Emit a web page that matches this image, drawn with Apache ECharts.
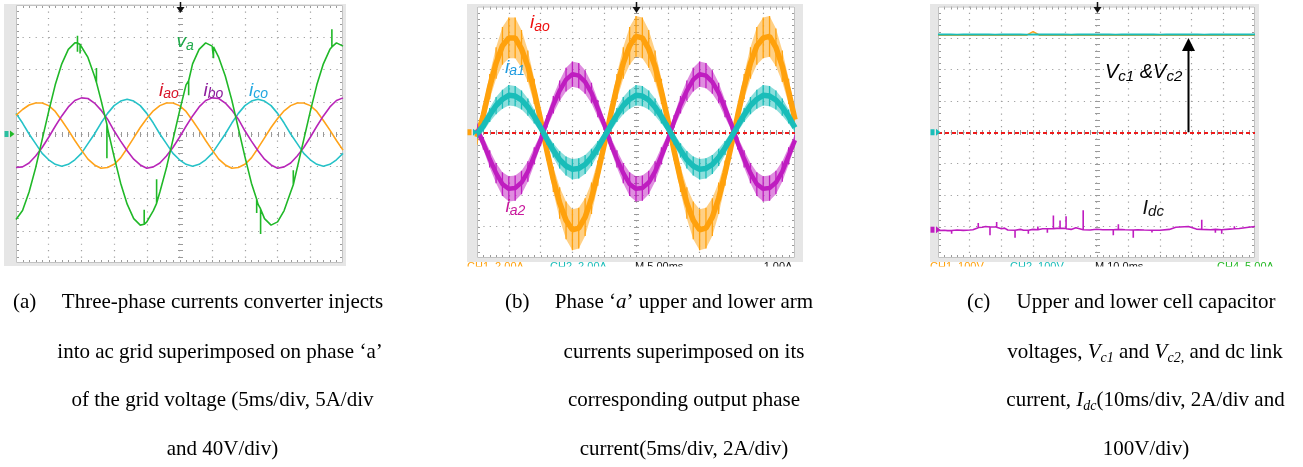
<!DOCTYPE html>
<html>
<head>
<meta charset="utf-8">
<script src="https://cdn.jsdelivr.net/npm/echarts@6/dist/echarts.min.js"></script>
<style>
  html, body { margin: 0; padding: 0; background: #fff; }
  #chart { width: 1303px; height: 467px; }
</style>
</head>
<body>
<div id="chart"></div>
<script>
// ---------- (a) grid currents and phase-a voltage: 5 ms/div, 5 A/div, 40 V/div ----------
const timeA = Array.from({ length: 51 }, (_, i) => i);          // ms
const iaoA = [2.9, 3.8, 4.5, 4.8, 4.8, 4.4, 3.5, 2.1, 0.6, -1.0, -2.5, -3.9, -4.8, -5.3, -5.2, -4.7, -3.7, -2.2, -0.6, 1.0,
              2.4, 3.6, 4.4, 4.8, 4.8, 4.4, 3.5, 2.1, 0.6, -1.0, -2.5, -3.9, -4.8, -5.3, -5.2, -4.7, -3.7, -2.2, -0.6, 1.0,
              2.4, 3.6, 4.4, 4.8, 4.8, 4.4, 3.5, 2.1, 0.6, -1.0, -2.5];
const iboA = [-5.2, -5.1, -4.5, -3.4, -2.1, -0.5, 1.2, 2.8, 4.2, 5.2, 5.6, 5.5, 4.8, 3.7, 2.3, 0.5, -1.1, -2.6, -3.9, -4.8,
              -5.3, -5.1, -4.5, -3.4, -2.1, -0.5, 1.2, 2.8, 4.2, 5.2, 5.6, 5.5, 4.8, 3.7, 2.3, 0.5, -1.1, -2.6, -3.9, -4.8,
              -5.3, -5.1, -4.5, -3.4, -2.1, -0.5, 1.2, 2.8, 4.2, 5.2, 5.6];
const icoA = [3.2, 1.7, 0.0, -1.5, -3.0, -4.0, -4.7, -5.0, -4.7, -4.0, -3.0, -1.5, 0.0, 1.7, 3.2, 4.4, 5.1, 5.4, 5.1, 4.4,
              3.2, 1.7, 0.0, -1.5, -3.0, -4.0, -4.7, -5.0, -4.7, -4.0, -3.0, -1.5, 0.0, 1.7, 3.2, 4.4, 5.1, 5.4, 5.1, 4.4,
              3.2, 1.7, 0.0, -1.5, -3.0, -4.0, -4.7, -5.0, -4.7, -4.0, -3.0];
// grid voltage [ms, V]; repeated time stamps are the switching spikes
const vaA = [[0, -106], [1, -95], [2, -72], [3, -42], [4, -7], [5, 28], [6, 61], [7, 87], [8, 105], [9, 113],
  [9.4, 113], [9.4, 122], [9.4, 102], [9.4, 113], [9.8, 111], [9.8, 100], [9.8, 111],
  [10, 109], [11, 95], [12, 72], [12.3, 64], [12.3, 82], [12.3, 64], [13, 42],
  [13.9, 12], [13.9, -30], [13.9, 12], [14, 7], [15, -28], [16, -61], [17, -87], [18, -105], [19, -113],
  [19.6, -112], [19.6, -94], [19.6, -112], [20, -109], [21, -95], [21.5, -86], [21.5, -56], [21.5, -86],
  [22, -72], [23, -42], [24, -7], [25, 28], [26, 61], [26.4, 66], [26.4, 48], [26.4, 66],
  [27, 87], [28, 105], [29, 113], [30, 109], [30.2, 108], [30.2, 94], [30.2, 108],
  [31, 95], [32, 72], [33, 42], [34, 7], [35, -28], [36, -61], [36.8, -81], [36.8, -98], [36.8, -81],
  [37, -87], [37.4, -93], [37.4, -124], [37.4, -93], [38, -105], [39, -113], [40, -109], [41, -95], [42, -72],
  [42.4, -63], [42.4, -45], [42.4, -63], [43, -42], [44, -7], [45, 28], [46, 61], [47, 87], [48, 105],
  [48.3, 108], [48.3, 130], [48.3, 108], [49, 113], [50, 109]];

// ---------- (b) arm currents and phase current: 5 ms/div, 2 A/div ----------
const timeB = Array.from({ length: 51 }, (_, i) => i);          // ms
const iaoB = [-0.3, 1.1, 2.9, 4.4, 5.5, 6.0, 6.0, 5.3, 4.2, 2.6, 0.8, -1.2, -3.0, -4.5, -5.6, -6.2, -6.1, -5.4, -4.2, -2.6,
              -0.8, 1.1, 2.9, 4.4, 5.5, 6.1, 6.0, 5.3, 4.2, 2.6, 0.8, -1.2, -3.0, -4.5, -5.6, -6.2, -6.1, -5.4, -4.2, -2.6,
              -0.8, 1.1, 2.9, 4.4, 5.5, 6.0, 6.1, 5.4, 4.2, 2.6, 0.8];
const ia1B = [-0.1, 0.4, 1.1, 1.7, 2.1, 2.35, 2.3, 2.05, 1.6, 1.0, 0.3, -0.45, -1.15, -1.75, -2.15, -2.35, -2.3, -2.05, -1.6, -1.0,
              -0.3, 0.4, 1.1, 1.7, 2.1, 2.35, 2.3, 2.05, 1.6, 1.0, 0.3, -0.45, -1.15, -1.75, -2.15, -2.35, -2.3, -2.05, -1.6, -1.0,
              -0.3, 0.4, 1.1, 1.7, 2.1, 2.35, 2.3, 2.05, 1.6, 1.0, 0.3];
const ia2B = [0.2, -0.7, -1.7, -2.6, -3.3, -3.6, -3.55, -3.2, -2.5, -1.5, -0.5, 0.7, 1.75, 2.65, 3.35, 3.7, 3.6, 3.2, 2.5, 1.5,
              0.5, -0.7, -1.7, -2.6, -3.3, -3.6, -3.55, -3.2, -2.5, -1.5, -0.5, 0.7, 1.75, 2.65, 3.35, 3.7, 3.6, 3.2, 2.5, 1.5,
              0.5, -0.7, -1.7, -2.6, -3.3, -3.6, -3.55, -3.2, -2.5, -1.5, -0.5];
// half-width of the switching ripple band around each trace (A)
const iaoRipple = [0.5, 0.6, 0.8, 1.0, 1.2, 1.3, 1.3, 1.2, 1.0, 0.8, 0.5, 0.6, 0.8, 1.0, 1.2, 1.3, 1.3, 1.2, 1.0, 0.8,
                   0.5, 0.6, 0.8, 1.0, 1.2, 1.3, 1.3, 1.2, 1.0, 0.8, 0.5, 0.6, 0.8, 1.0, 1.2, 1.3, 1.3, 1.2, 1.0, 0.8,
                   0.5, 0.6, 0.8, 1.0, 1.2, 1.3, 1.3, 1.2, 1.0, 0.8, 0.5];
const ia1Ripple = [0.3, 0.35, 0.45, 0.55, 0.6, 0.65, 0.65, 0.6, 0.55, 0.45, 0.3, 0.35, 0.45, 0.55, 0.6, 0.65, 0.65, 0.6, 0.55, 0.45,
                   0.3, 0.35, 0.45, 0.55, 0.6, 0.65, 0.65, 0.6, 0.55, 0.45, 0.3, 0.35, 0.45, 0.55, 0.6, 0.65, 0.65, 0.6, 0.55, 0.45,
                   0.3, 0.35, 0.45, 0.55, 0.6, 0.65, 0.65, 0.6, 0.55, 0.45, 0.3];
const ia2Ripple = [0.35, 0.4, 0.55, 0.65, 0.75, 0.8, 0.8, 0.75, 0.65, 0.55, 0.35, 0.4, 0.55, 0.65, 0.75, 0.8, 0.8, 0.75, 0.65, 0.55,
                   0.35, 0.4, 0.55, 0.65, 0.75, 0.8, 0.8, 0.75, 0.65, 0.55, 0.35, 0.4, 0.55, 0.65, 0.75, 0.8, 0.8, 0.75, 0.65, 0.55,
                   0.35, 0.4, 0.55, 0.65, 0.75, 0.8, 0.8, 0.75, 0.65, 0.55, 0.35];

// ---------- (c) cell capacitor voltages and dc link current: 10 ms/div, 100 V/div, 2 A/div ----------
const timeC = Array.from({ length: 51 }, (_, i) => 2 * i);      // ms
const vc1C = [309, 309, 308.5, 309, 309, 308.5, 309, 309.5, 309, 309, 308.5, 309, 309, 309, 309, 320, 309, 308.5, 309, 309,
              309, 308.5, 309, 309.5, 309, 309, 308.5, 309, 309, 309, 309.5, 309, 308.5, 309, 309, 309, 308.5, 309, 309, 309.5,
              309, 309, 308.5, 309, 309, 309, 308.5, 309, 309, 309, 309];
const vc2C = [311, 311.5, 311, 310.5, 311, 311, 311.5, 311, 311, 310.5, 311, 311, 311.5, 311, 310.5, 311, 311, 311, 311.5, 311,
              311, 310.5, 311, 311, 311.5, 311, 311, 311, 310.5, 311, 311, 311.5, 311, 311, 311, 310.5, 311, 311, 311.5, 311,
              311, 311, 310.5, 311, 311, 311, 311.5, 311, 311, 311, 311];
// dc link current [ms, A]; repeated time stamps are spikes
const idcC = [[0, -0.05], [2, -0.03], [3, -0.06], [4.3, -0.05], [4.3, -0.25], [4.3, -0.05], [6, -0.02], [8, -0.04], [10, -0.02], [11, 0.0],
  [12.7, 0.12], [12.7, 0.42], [12.7, 0.14], [14, 0.16], [15, 0.2], [16.4, 0.17], [16.4, -0.36], [16.4, 0.17],
  [18.5, 0.18], [18.5, 0.49], [18.5, 0.15], [20, 0.06], [21, 0.1], [22, -0.02], [24.3, -0.03], [24.3, -0.51], [24.3, -0.03],
  [26, 0.02], [27, -0.03], [28.5, -0.03], [28.5, -0.26], [28.5, -0.03], [30, 0.02], [31.5, 0.0], [31.5, 0.2], [31.5, 0.0],
  [33, 0.06], [34.5, 0.06], [34.5, -0.2], [34.5, 0.06], [36.4, 0.07], [36.4, 0.91], [36.4, 0.07], [38.5, 0.1], [38.5, 0.59], [38.5, 0.1],
  [40.4, 0.08], [40.4, 0.85], [40.4, 0.06], [42, 0.02], [43.5, 0.12], [45.8, 0.0], [45.8, 1.23], [45.8, 0.0], [48, -0.02],
  [50, 0.03], [52, 0.0], [55.3, 0.0], [55.3, -0.36], [55.3, 0.0], [56.9, 0.02], [56.9, 0.34], [56.9, 0.02], [59, 0.0],
  [61.6, -0.02], [61.6, -0.51], [61.6, -0.02], [63, 0.0], [65, -0.02], [67.5, -0.03], [67.5, -0.18], [67.5, -0.03],
  [70, -0.03], [73, 0.02], [75, 0.16], [79, 0.2],
  [81.5, 0.04], [83.2, 0.02], [83.2, 0.63], [83.2, 0.02], [86, 0.0], [87.5, 0.02], [87.5, -0.2], [87.5, 0.02],
  [89.5, 0.0], [89.5, -0.25], [89.5, 0.0], [92, 0.04], [93.5, 0.06], [93.5, 0.22], [93.5, 0.06], [95, 0.08], [98, 0.16], [100, 0.2]];

// ---------- layout ----------
const GRIDS = [
  { left: 16, top: 5, width: 327, height: 258 },
  { left: 477, top: 6.5, width: 318, height: 251.5 },
  { left: 938, top: 6.5, width: 317, height: 251.5 }
];
const FRAMES = [
  { x: 4, y: 4, width: 342, height: 262 },
  { x: 467, y: 4, width: 336, height: 258 },
  { x: 930, y: 4, width: 329, height: 258 }
];

const C = {
  green: '#20b828', orange: '#ffa31a', magenta: '#b826b8', cyan: '#26c2c8',
  orangeB: '#ffa10c', cyanB: '#19bdb9', magentaB: '#bf1cc0', red: '#ee1b1b'
};

function divAxisX(gi, max, step, dotGap) {
  return {
    gridIndex: gi, type: 'value', min: 0, max: max, interval: step,
    axisLine: { show: false }, axisTick: { show: false }, axisLabel: { show: false },
    splitLine: { show: true, showMinLine: false, showMaxLine: false,
      lineStyle: { color: '#a0a0a0', width: 1.2, type: [1.2, dotGap] } }
  };
}
function divAxisY(gi, dotGap) {
  return {
    gridIndex: gi, type: 'value', min: -4, max: 4, interval: 1,
    axisLine: { show: false }, axisTick: { show: false }, axisLabel: { show: false },
    splitLine: { show: true, showMinLine: false, showMaxLine: false,
      lineStyle: { color: '#a0a0a0', width: 1.2, type: [1.2, dotGap] } }
  };
}
function chanAxis(gi, min, max) {
  return { gridIndex: gi, type: 'value', min: min, max: max, show: false, splitLine: { show: false } };
}

// scope graticule: border, centre cross and minor ticks at 1/5 division
function graticule(xi, yi) {
  return {
    type: 'custom', xAxisIndex: xi, yAxisIndex: yi, silent: true, z: 1, data: [[0, 0]],
    renderItem(params) {
      const cs = params.coordSys;
      const x0 = cs.x, y0 = cs.y, w = cs.width, h = cs.height;
      const cx = Math.round(x0 + w / 2) + 0.5, cy = Math.round(y0 + h / 2) + 0.5;
      const st = { stroke: '#9a9a9a', lineWidth: 1 };
      const kids = [];
      const seg = (a, b, c, d) => kids.push({ type: 'line', shape: { x1: a, y1: b, x2: c, y2: d }, style: st });
      for (let i = 1; i < 50; i++) {
        const x = Math.round(x0 + i * w / 50) + 0.5;
        seg(x, cy - 2.5, x, cy + 2.5);
        seg(x, y0, x, y0 + 3);
        seg(x, y0 + h - 3, x, y0 + h);
      }
      for (let j = 1; j < 40; j++) {
        const y = Math.round(y0 + j * h / 40) + 0.5;
        seg(cx - 2.5, y, cx + 2.5, y);
        seg(x0, y, x0 + 3, y);
        seg(x0 + w - 3, y, x0 + w, y);
      }
      kids.push({ type: 'rect', shape: { x: x0 + 0.5, y: y0 + 0.5, width: w - 1, height: h - 1 },
        style: { fill: null, stroke: '#c2c2c2', lineWidth: 1 } });
      return { type: 'group', children: kids };
    }
  };
}

// switching-ripple band drawn around a trace from its centre values and ripple half-widths
function rippleBand(xi, yi, times, centre, ripple, color, z) {
  return {
    type: 'custom', xAxisIndex: xi, yAxisIndex: yi, silent: true, z: z, clip: true,
    data: times.map((t, i) => [t, centre[i] - ripple[i], centre[i] + ripple[i]]),
    renderItem(params, api) {
      const lo = api.coord([api.value(0), api.value(1)]);
      const hi = api.coord([api.value(0), api.value(2)]);
      const kids = [{ type: 'line', shape: { x1: lo[0], y1: lo[1], x2: hi[0], y2: hi[1] },
        style: { stroke: color, lineWidth: 1.3 } }];
      if (params.dataIndex === 0) {
        const up = [], dn = [];
        for (let i = 0; i < times.length; i++) {
          up.push(api.coord([times[i], centre[i] + ripple[i]]));
          dn.push(api.coord([times[i], centre[i] - ripple[i]]));
        }
        kids.push({ type: 'polygon', shape: { points: up.concat(dn.reverse()) },
          style: { fill: color, opacity: 0.5 } });
      }
      return { type: 'group', children: kids };
    }
  };
}

function trace(xi, yi, data, color, width, z) {
  return { type: 'line', xAxisIndex: xi, yAxisIndex: yi, data: data, showSymbol: false,
    lineStyle: { color: color, width: width }, itemStyle: { color: color }, z: z, silent: true, clip: true };
}
const pairs = (times, vals) => times.map((t, i) => [t, vals[i]]);

const zeroRef = (xi, yi) => ({
  type: 'line', xAxisIndex: xi, yAxisIndex: yi, data: [], z: 8, silent: true,
  markLine: { symbol: 'none', silent: true, label: { show: false },
    lineStyle: { color: C.red, type: [4, 3], width: 2 }, data: [{ yAxis: 0 }] }
});

const chart = echarts.init(document.getElementById('chart'), null, { renderer: 'canvas' });

chart.setOption({
  animation: false,
  backgroundColor: '#ffffff',
  grid: GRIDS.map(g => Object.assign({ containLabel: false }, g)),
  xAxis: [
    divAxisX(0, 50, 5, 5.25),
    divAxisX(1, 50, 5, 5.09),
    divAxisX(2, 100, 10, 5.09)
  ],
  yAxis: [
    divAxisY(0, 5.34),          // 0: divisions (a)
    chanAxis(0, -20, 20),       // 1: A, 5 A/div
    chanAxis(0, -160, 160),     // 2: V, 40 V/div
    divAxisY(1, 5.16),          // 3: divisions (b)
    chanAxis(1, -8, 8),         // 4: A, 2 A/div
    divAxisY(2, 5.14),          // 5: divisions (c)
    chanAxis(2, -400, 400),     // 6: V, 100 V/div
    chanAxis(2, -1.8, 14.2)     // 7: A, 2 A/div, ground 3.1 div below centre
  ],
  series: [
    graticule(0, 0), graticule(1, 3), graticule(2, 5),                 // 0-2
    // (a)
    trace(0, 1, pairs(timeA, icoA), C.cyan, 1.6, 3),                   // 3
    trace(0, 1, pairs(timeA, iaoA), C.orange, 1.6, 3),                 // 4
    trace(0, 1, pairs(timeA, iboA), C.magenta, 1.6, 3),                // 5
    trace(0, 2, vaA, C.green, 1.6, 4),                                 // 6
    // (b)
    rippleBand(1, 4, timeB, iaoB, iaoRipple, C.orangeB, 3),            // 7
    trace(1, 4, pairs(timeB, iaoB), C.orangeB, 5.5, 3),                // 8
    rippleBand(1, 4, timeB, ia2B, ia2Ripple, C.magentaB, 4),           // 9
    trace(1, 4, pairs(timeB, ia2B), C.magentaB, 4.5, 4),               // 10
    rippleBand(1, 4, timeB, ia1B, ia1Ripple, C.cyanB, 5),              // 11
    trace(1, 4, pairs(timeB, ia1B), C.cyanB, 5.5, 5),                  // 12
    zeroRef(1, 4),                                                     // 13
    // (c)
    trace(2, 6, pairs(timeC, vc1C), C.orange, 1.6, 3),                 // 14
    trace(2, 6, pairs(timeC, vc2C), C.cyanB, 1.8, 4),                  // 15
    trace(2, 7, idcC, C.magentaB, 1.6, 4),                             // 16
    zeroRef(2, 6)                                                      // 17
  ]
});

// ---------- annotations ----------
const meas = document.createElement('canvas').getContext('2d');
const SANS = 'Liberation Sans', SERIF = 'Liberation Serif';

// lay out a run of text pieces on one baseline; sub pieces drop below it
function run(pieces, x, baseline, align) {
  let total = 0;
  const items = pieces.map(p => {
    const font = (p.italic ? 'italic ' : '') + p.size + 'px "' + p.family + '"';
    meas.font = font;
    const w = meas.measureText(p.text).width;
    total += w;
    return { p, w };
  });
  let cx = align === 'center' ? x - total / 2 : x;
  return items.map(({ p, w }) => {
    const el = {
      type: 'text', x: cx, y: baseline + (p.drop || 0) - 0.34 * p.size, z: 100, silent: true,
      style: { text: p.text, fill: p.color || '#000', fontSize: p.size, fontFamily: p.family,
        fontStyle: p.italic ? 'italic' : 'normal', align: 'left', verticalAlign: 'middle',
        textAlign: 'left', textVerticalAlign: 'middle' }
    };
    cx += w;
    return el;
  });
}
// trace label: italic symbol with italic subscript
function sym(main, sub, color, x, baseline, size, subSize, drop) {
  return run([
    { text: main, size: size, family: SANS, italic: true, color: color },
    { text: sub, size: subSize, family: SANS, italic: true, color: color, drop: drop }
  ], x, baseline, 'left');
}
// caption line in the serif body face
const cap = (text, opts) => Object.assign({ text: text, size: 21, family: SERIF }, opts || {});

const g = [];
// instrument frames and white screen areas
FRAMES.forEach(f => g.push({ type: 'rect', z: -10, silent: true, shape: f, style: { fill: '#e6e6e6' } }));
GRIDS.forEach(q => g.push({ type: 'rect', z: -9, silent: true,
  shape: { x: q.left, y: q.top, width: q.width, height: q.height }, style: { fill: '#ffffff' } }));

// trigger position markers at the top centre of each screen
GRIDS.forEach(q => {
  const xc = Math.round(q.left + q.width / 2) + 0.5;
  g.push({ type: 'line', z: 50, silent: true, shape: { x1: xc, y1: 2, x2: xc, y2: 8 }, style: { stroke: '#111', lineWidth: 1.5 } });
  g.push({ type: 'polygon', z: 50, silent: true, shape: { points: [[xc - 4, 7], [xc + 4, 7], [xc, 13]] }, style: { fill: '#111' } });
});

// channel ground markers on the left edge
function groundMark(seriesIndex, frameX, color, chColor) {
  const y = chart.convertToPixel({ seriesIndex: seriesIndex }, [0, 0])[1];
  g.push({ type: 'rect', z: 50, silent: true, shape: { x: frameX + 0.5, y: y - 3, width: 4, height: 6 }, style: { fill: chColor } });
  g.push({ type: 'polygon', z: 50, silent: true, shape: { points: [[frameX + 6, y - 3.5], [frameX + 6, y + 3.5], [frameX + 10.5, y]] }, style: { fill: color } });
}
groundMark(6, 4, C.green, '#2bbfa0');
groundMark(8, 467, C.cyanB, C.orangeB);
groundMark(15, 930, C.cyanB, C.cyanB);
groundMark(16, 930, C.magentaB, C.magentaB);

// (a) trace labels
g.push(...sym('v', 'a', '#1faa4a', 176.5, 48.5, 19, 14, 2.5));
g.push(...sym('i', 'ao', '#d8152a', 159, 97, 19, 14, 2));
g.push(...sym('i', 'bo', '#8c1c9c', 203.5, 97, 19, 14, 2));
g.push(...sym('i', 'co', '#22a8e0', 249, 97, 19, 14, 2));
// (b) trace labels
g.push(...sym('i', 'ao', '#ee1111', 530, 29.5, 19, 14, 2));
g.push(...sym('i', 'a1', '#1f9be0', 505, 74, 19, 14, 2));
g.push(...sym('i', 'a2', '#c8189c', 505.5, 213.5, 19, 14, 2));
// (c) trace labels and the capacitor-voltage arrow
g.push(...run([
  { text: 'V', size: 20, family: SANS, italic: true },
  { text: 'c1', size: 15, family: SANS, italic: true, drop: 2.5 },
  { text: ' &V', size: 20, family: SANS, italic: true },
  { text: 'c2', size: 15, family: SANS, italic: true, drop: 2.5 }
], 1105, 79.5, 'left'));
g.push(...sym('I', 'dc', '#111', 1142.5, 215, 20, 15, 2));
const aBase = chart.convertToPixel({ seriesIndex: 14 }, [79, 0]);
const aTip = chart.convertToPixel({ seriesIndex: 14 }, [79, 300]);
const ax = Math.round(aBase[0]) + 0.5;
g.push({ type: 'line', z: 60, silent: true, shape: { x1: ax, y1: aBase[1], x2: ax, y2: aTip[1] + 10 }, style: { stroke: '#000', lineWidth: 2 } });
g.push({ type: 'polygon', z: 60, silent: true, shape: { points: [[ax, aTip[1]], [ax - 6.5, aTip[1] + 13], [ax + 6.5, aTip[1] + 13]] }, style: { fill: '#000' } });

// scope read-outs along the lower edge (cut by the figure border)
const readout = (text, x, color) => g.push({ type: 'text', z: 40, silent: true, x: x, y: 261.5,
  style: { text: text, fill: color, fontSize: 11, fontFamily: SANS, align: 'left', verticalAlign: 'top', textAlign: 'left', textVerticalAlign: 'top' } });
readout('CH1  2.00A', 467, C.orangeB); readout('CH2  2.00A', 550, C.cyanB);
readout('M 5.00ms', 635, '#111'); readout('-1.00A', 760, '#111');
readout('CH1  100V', 930, C.orangeB); readout('CH2  100V', 1010, C.cyanB);
readout('M 10.0ms', 1095, '#111'); readout('CH4  5.00A', 1217, '#22b822');
g.push({ type: 'rect', z: 45, silent: true, shape: { x: 440, y: 266.5, width: 863, height: 12 }, style: { fill: '#fff' } });

// captions
g.push(...run([cap('(a)')], 13, 310, 'left'));
g.push(...run([cap('Three-phase currents converter injects')], 222.5, 310, 'center'));
g.push(...run([cap('into ac grid superimposed on phase \u2018a\u2019')], 220, 360, 'center'));
g.push(...run([cap('of the grid voltage (5ms/div, 5A/div')], 222.5, 408, 'center'));
g.push(...run([cap('and 40V/div)')], 222.5, 457, 'center'));

g.push(...run([cap('(b)')], 505, 310, 'left'));
g.push(...run([cap('Phase \u2018'), cap('a', { italic: true }), cap('\u2019 upper and lower arm')], 684, 310, 'center'));
g.push(...run([cap('currents superimposed on its')], 684, 360, 'center'));
g.push(...run([cap('corresponding output phase')], 684, 408, 'center'));
g.push(...run([cap('current(5ms/div, 2A/div)')], 684, 457, 'center'));

g.push(...run([cap('(c)')], 967, 310, 'left'));
g.push(...run([cap('Upper and lower cell capacitor')], 1146, 310, 'center'));
g.push(...run([
  cap('voltages, '), cap('V', { italic: true }), cap('c1', { italic: true, size: 14, drop: 3.5 }),
  cap(' and '), cap('V', { italic: true }), cap('c2,', { italic: true, size: 14, drop: 3.5 }), cap(' and dc link')
], 1145, 360, 'center'));
g.push(...run([
  cap('current, '), cap('I', { italic: true }), cap('dc', { italic: true, size: 14, drop: 3.5 }),
  cap('(10ms/div, 2A/div and')
], 1145.5, 408, 'center'));
g.push(...run([cap('100V/div)')], 1146, 457, 'center'));

chart.setOption({ graphic: { elements: g } });
</script>
</body>
</html>
